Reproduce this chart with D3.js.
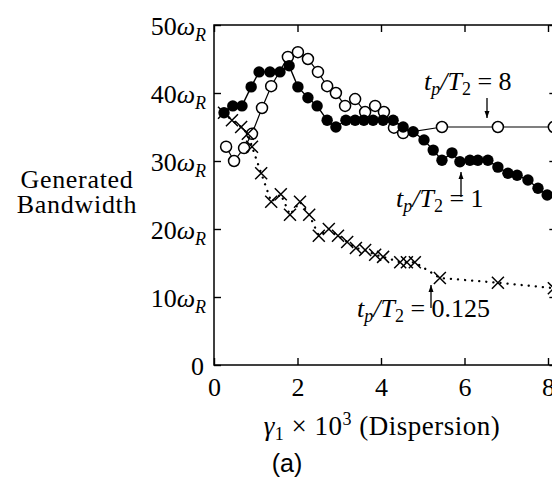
<!DOCTYPE html>
<html><head><meta charset="utf-8">
<script src="https://cdn.jsdelivr.net/npm/d3@7/dist/d3.min.js"></script>
<style>
html,body{margin:0;padding:0;background:#fff;}
svg{display:block;}
text{font-family:"Liberation Serif","DejaVu Serif",serif;fill:#000;}
</style></head>
<body>
<svg id="c" width="552" height="483"></svg>
<script>
// ---- data ----
const xTicks = [0, 2, 4, 6, 8];
const yTicks = [0, 10, 20, 30, 40, 50];

// t_p/T_2 = 1 (filled circles)
const xFilled = [0.24,0.45,0.67,0.89,1.08,1.34,1.58,1.80,2.01,2.25,2.47,2.71,2.92,3.16,3.38,3.59,3.81,4.05,4.29,4.53,4.77,5.03,5.25,5.46,5.70,5.89,6.13,6.32,6.56,6.80,7.04,7.26,7.52,7.76,7.98];
const yFilled = [37.1,38.1,38.1,40.9,43.1,43.1,43.1,44.0,40.9,39.3,38.1,36.0,35.0,36.0,36.0,36.0,36.0,36.0,36.0,35.0,34.3,33.1,31.6,30.1,31.2,29.9,30.1,30.1,30.1,29.1,28.2,27.9,27.2,26.0,25.0];

// t_p/T_2 = 8 (open circles)
const xOpen = [0.29,0.48,0.72,0.91,1.15,1.37,1.77,2.01,2.25,2.49,2.71,2.92,3.14,3.38,3.62,3.86,4.07,4.31,4.53,5.46,6.80,8.14];
const yOpen = [32.1,30.0,31.9,34.0,37.8,41.0,45.3,46.0,45.0,43.1,41.0,40.0,38.1,39.1,37.2,38.1,37.2,34.9,34.1,35.0,35.0,35.0];

// t_p/T_2 = 0.125 (crosses)
const xCross = [0.24,0.43,0.65,0.81,0.91,1.13,1.37,1.60,1.82,2.06,2.28,2.51,2.75,2.97,3.19,3.40,3.62,3.86,4.05,4.46,4.62,4.81,5.41,6.80,8.14];
const yCross = [37.1,36.0,35.0,34.0,32.1,28.2,24.0,25.1,22.1,24.0,22.1,19.0,20.0,19.0,18.1,17.2,16.9,16.2,15.9,15.1,15.1,15.1,12.8,12.1,11.3];

// ---- chart ----
const svg = d3.select("#c");
const L = 214, T = 25, B = 365;
const x = d3.scaleLinear().domain([0, 8.2]).range([L, L + 41.75 * 8.2]);
const y = d3.scaleLinear().domain([0, 50]).range([B, T]);
const R = x(8.2);

// frame
svg.append("rect").attr("x", L).attr("y", T).attr("width", R - L).attr("height", B - T)
  .attr("fill", "none").attr("stroke", "#000").attr("stroke-width", 1.5);

// axes (inward ticks)
const tick = 7;
const gB = svg.append("g").attr("transform", `translate(0,${B})`)
  .call(d3.axisBottom(x).tickValues(xTicks).tickSizeInner(-tick).tickSizeOuter(0).tickPadding(8).tickFormat(d3.format("d")));
const gT = svg.append("g").attr("transform", `translate(0,${T})`)
  .call(d3.axisTop(x).tickValues(xTicks).tickSizeInner(-tick).tickSizeOuter(0).tickFormat(""));
const gL = svg.append("g").attr("transform", `translate(${L},0)`)
  .call(d3.axisLeft(y).tickValues(yTicks).tickSizeInner(-tick).tickSizeOuter(0).tickPadding(12).tickFormat(""));
const gR = svg.append("g").attr("transform", `translate(${R},0)`)
  .call(d3.axisRight(y).tickValues(yTicks).tickSizeInner(-tick).tickSizeOuter(0).tickFormat(""));
[gB, gT, gL, gR].forEach(g => {
  g.select(".domain").remove();
  g.selectAll(".tick line").attr("stroke", "#000").attr("stroke-width", 1.4);
});
gB.selectAll(".tick text").attr("font-size", 26).attr("dy", "0.88em");

// y tick labels with omega_R
gL.selectAll(".tick").each(function(d) {
  const t = d3.select(this).select("text")
    .attr("font-size", 26)
    .attr("text-anchor", "end").attr("x", d === 0 ? -10 : -8).attr("dy", "0.36em");
  t.text(null);
  t.append("tspan").text(d);
  if (d !== 0) {
    t.append("tspan").attr("font-style", "italic").text("ω");
    t.append("tspan").attr("font-style", "italic").attr("font-size", 18).attr("dy", 6).text("R");
  }
});

// axis labels
const yl = svg.append("text").attr("text-anchor", "middle").attr("font-size", 26).attr("letter-spacing", 0.7);
yl.append("tspan").attr("x", 77).attr("y", 188).text("Generated");
yl.append("tspan").attr("x", 77).attr("y", 213).text("Bandwidth");

const xl = svg.append("text").attr("x", 382).attr("y", 435).attr("text-anchor", "middle")
  .attr("font-size", 27).attr("letter-spacing", 0.5);
xl.append("tspan").attr("font-style", "italic").text("γ");
xl.append("tspan").attr("font-size", 18).attr("dy", 5).text("1");
xl.append("tspan").attr("dy", -5).text(" × 10");
xl.append("tspan").attr("font-size", 18).attr("dy", -10).text("3");
xl.append("tspan").attr("dy", 10).text(" (Dispersion)");

svg.append("text").attr("x", 287).attr("y", 472).attr("text-anchor", "middle")
  .style("font-family", "'Liberation Sans', Arial, sans-serif").attr("font-size", 25).text("(a)");

// lines
const line = d3.line().x(d => x(d[0])).y(d => y(d[1]));
const openPts = xOpen.map((v, i) => [v, yOpen[i]]);
const filledPts = xFilled.map((v, i) => [v, yFilled[i]]);
const crossPts = xCross.map((v, i) => [v, yCross[i]]);

const plot = svg.append("g");

plot.append("path").attr("d", line(openPts)).attr("fill", "none").attr("stroke", "#000").attr("stroke-width", 1.2);
plot.selectAll("circle.o").data(openPts).join("circle").attr("class", "o")
  .attr("cx", d => x(d[0])).attr("cy", d => y(d[1])).attr("r", 5.5)
  .attr("fill", "#fff").attr("stroke", "#000").attr("stroke-width", 1.5);

plot.append("path").attr("d", line(filledPts)).attr("fill", "none").attr("stroke", "#000").attr("stroke-width", 1.4);
plot.selectAll("circle.f").data(filledPts).join("circle").attr("class", "f")
  .attr("cx", d => x(d[0])).attr("cy", d => y(d[1])).attr("r", 5.7).attr("fill", "#000");

plot.append("path").attr("d", line(crossPts)).attr("fill", "none").attr("stroke", "#000")
  .attr("stroke-width", 2.3).attr("stroke-linecap", "round").attr("stroke-dasharray", "0.1,7");
const cs = 6;
plot.selectAll("path.x").data(crossPts).join("path").attr("class", "x")
  .attr("d", d => { const cx = x(d[0]), cy = y(d[1]);
    return `M${cx-cs},${cy-cs}L${cx+cs},${cy+cs}M${cx-cs},${cy+cs}L${cx+cs},${cy-cs}`; })
  .attr("stroke", "#000").attr("stroke-width", 1.5).attr("fill", "none");

// annotations
function label(xp, yb, val) {
  const t = svg.append("text").attr("x", xp).attr("y", yb).attr("font-size", 26);
  t.append("tspan").attr("font-style", "italic").text("t");
  t.append("tspan").attr("font-style", "italic").attr("font-size", 18).attr("dy", 5).text("p");
  t.append("tspan").attr("dy", -5).attr("font-style", "italic").text("/T");
  t.append("tspan").attr("font-size", 18).attr("dy", 5).text("2");
  t.append("tspan").attr("dy", -5).text(" = " + val);
}
function arrow(xp, y0, y1) {
  svg.append("line").attr("x1", xp).attr("x2", xp).attr("y1", y0).attr("y2", y1)
    .attr("stroke", "#000").attr("stroke-width", 1.3);
  const dir = Math.sign(y1 - y0);
  svg.append("path").attr("d", `M${xp-2.5},${y1 - dir*7}L${xp},${y1}L${xp+2.5},${y1 - dir*7}Z`).attr("fill", "#000");
}
label(424, 90, "8");   arrow(487, 98, 118);
label(396, 207, "1");  arrow(461, 197, 172);
label(357, 317, "0.125"); arrow(431, 308, 285);
</script>
</body></html>
